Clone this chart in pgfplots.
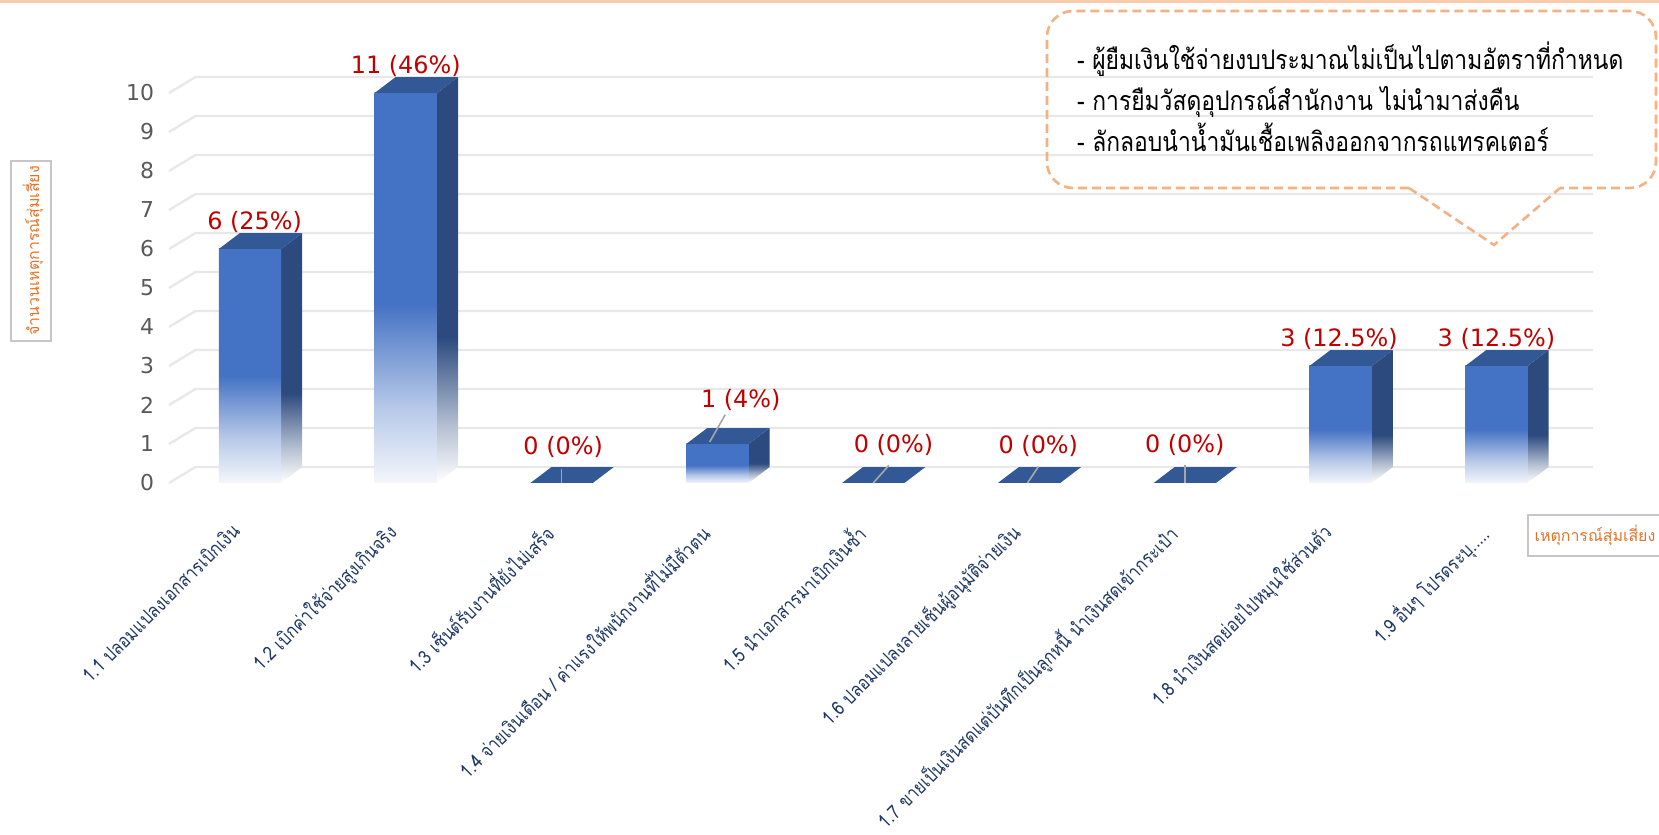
\documentclass[border=0pt]{standalone}
\usepackage{pgfplots}
\pgfplotsset{compat=1.18}
\usepackage{fontspec}
\setmainfont{DejaVu Sans}
\newfontfamily\thai[Script=Thai]{Loma}
\newfontfamily\thaicond[Script=Thai,FakeStretch=0.85]{Loma}
\definecolor{barfront}{HTML}{4472C4}
\definecolor{bartop}{HTML}{335896}
\definecolor{barside}{HTML}{2C4A7E}
\definecolor{lblred}{HTML}{C00000}
\definecolor{catblue}{HTML}{1F3864}
\definecolor{ttlorange}{HTML}{E2732B}
\definecolor{calloutorange}{HTML}{F4B183}
\definecolor{gridc}{HTML}{E8E8E8}
\definecolor{tickgray}{HTML}{595959}
\definecolor{topline}{HTML}{F8CBAD}

\pgfdeclareverticalshading{frontfade}{100bp}{color(0bp)=(barfront!6); color(25bp)=(barfront!6); color(35bp)=(barfront!40); color(48bp)=(barfront); color(100bp)=(barfront)}
\pgfdeclareverticalshading{sidefade}{100bp}{color(0bp)=(white); color(25bp)=(white); color(32bp)=(barside!35); color(43bp)=(barside); color(100bp)=(barside)}

\newcommand\fivedots{.....}
% cube-like 3D bar: #1 = category position, #2 = value
\newcommand\cubebar[2]{%
  \pgfmathsetmacro\hh{min(#2,10)}%
  \pgfmathsetmacro\xl{#1-0.2}%
  \pgfmathsetmacro\xr{#1+0.2}%
  \pgfmathsetmacro\xbr{#1+0.335}%
  \pgfmathsetmacro\xbl{#1-0.065}%
  \pgfmathsetmacro\hb{\hh+0.41}%
  \ifdim #2pt>0pt
    \edef\tmp{\noexpand\addplot[draw=none,shade,shading=sidefade] coordinates {(\xr,0) (\xbr,0.41) (\xbr,\hb) (\xr,\hh)} -- cycle;}\tmp
    \edef\tmp{\noexpand\addplot[draw=none,shade,shading=frontfade] coordinates {(\xl,0) (\xr,0) (\xr,\hh) (\xl,\hh)} -- cycle;}\tmp
  \fi
  \edef\tmp{\noexpand\addplot[draw=none,fill=bartop] coordinates {(\xl,\hh) (\xr,\hh) (\xbr,\hb) (\xbl,\hb)} -- cycle;}\tmp
}
\newcommand\gridline[1]{%
  \pgfmathsetmacro\gb{#1+0.41}%
  \edef\tmp{\noexpand\addplot[gridc,line width=1.2bp] coordinates {(-0.52,#1) (-0.35,\gb) (8.62,\gb)};}\tmp
}

\begin{document}
\begin{tikzpicture}
\useasboundingbox (0,0) rectangle (829.5bp,417.5bp);
\begin{axis}[
  at={(84.5bp,176bp)}, anchor=south west,
  scale only axis, width=712bp, height=204.75bp,
  xmin=-0.52, xmax=8.62, ymin=0, ymax=10.5,
  clip=false,
  axis line style={draw=none},
  major tick length=0pt,
  ytick={0,1,2,3,4,5,6,7,8,9,10},
  xtick={0,1,2,3,4,5,6,7,8},
  /pgf/number format/assume math mode=true,
  yticklabel style={font=\fontsize{11}{13}\selectfont, text=tickgray, xshift=-4bp},
  xticklabels={{1.1 ปลอมแปลงเอกสารเบิกเงิน},{1.2 เบิกค่าใช้จ่ายสูงเกินจริง},{1.3 เซ็นต์รับงานที่ยังไม่เสร็จ},{1.4 จ่ายเงินเดือน / ค่าแรงให้พนักงานที่ไม่มีตัวตน},{1.5 นำเอกสารมาเบิกเงินซ้ำ},{1.6 ปลอมแปลงลายเซ็นผู้อนุมัติจ่ายเงิน},{1.7 ขายเป็นเงินสดแต่บันทึกเป็นลูกหนี้  นำเงินสดเข้ากระเป๋า},{1.8 นำเงินสดย่อยไปหมุนใช้ส่วนตัว},{1.9 อื่นๆ โปรดระบุ\fivedots}},
  xticklabel style={xshift=-10bp, yshift=-14.5bp, font=\thaicond\fontsize{9.7}{12}\selectfont, text=catblue, rotate=45, anchor=north east},
]
\pgfplotsinvokeforeach{0,1,2,3,4,5,6,7,8,9,10}{\gridline{#1}}
% bars: position, value
\cubebar{0}{6}
\cubebar{1}{11}
\cubebar{2}{0}
\cubebar{3}{1}
\cubebar{4}{0}
\cubebar{5}{0}
\cubebar{6}{0}
\cubebar{7}{3}
\cubebar{8}{3}
% leader lines
\addplot[gray!70, line width=0.8bp] coordinates {(2.0,0.36) (2.0,0.0)};
\addplot[gray!70, line width=0.8bp] coordinates {(3.05,1.75) (2.95,1.05)};
\addplot[gray!70, line width=0.8bp] coordinates {(4.1,0.45) (4.0,0.0)};
\addplot[gray!70, line width=0.8bp] coordinates {(5.06,0.42) (4.99,0.0)};
\addplot[gray!70, line width=0.8bp] coordinates {(6.0,0.45) (6.0,0.0)};
% data labels
\addplot[draw=none, nodes near coords, point meta=explicit symbolic,
  every node near coord/.append style={font=\fontsize{12}{14}\selectfont, text=lblred, anchor=center}]
  coordinates {
  (0.03,6.69) [6 (25\%)]
  (1.0,10.7) [11 (46\%)]
  (2.01,0.92) [0 (0\%)]
  (3.15,2.13) [1 (4\%)]
  (4.13,0.97) [0 (0\%)]
  (5.06,0.95) [0 (0\%)]
  (6.0,0.97) [0 (0\%)]
  (6.99,3.7) [3 (12.5\%)]
  (8.0,3.7) [3 (12.5\%)]
  };
\end{axis}
\begin{scope}[x=0.5bp,y=-0.5bp,shift={(0,417.5bp)}]
  \draw[topline, line width=1.5bp] (0,2) -- (1659,2);
  % y-axis title box
  \draw[gray!45, line width=1bp] (11,161) rectangle (51,341);
  \node[rotate=90, text=ttlorange, font=\thai\fontsize{8}{10}\selectfont] at (33,251) {จำนวนเหตุการณ์สุ่มเสี่ยง};
  % x-axis title box
  \draw[gray!45, line width=1bp] (1528,515) rectangle (1665,556);
  \node[text=ttlorange, font=\thai\fontsize{8}{10}\selectfont] at (1595,535) {เหตุการณ์สุ่มเสี่ยง};
  % callout
  \begin{scope}[calloutorange, line width=1.3bp, dash pattern=on 4.5bp off 2.5bp]
    \draw[rounded corners=13bp] (1409,188) -- (1047,188) -- (1047,11) -- (1656,11) -- (1656,188) -- (1560,188);
    \draw (1409,188) -- (1494,245) -- (1560,188);
  \end{scope}
  \node[anchor=base west, font=\thaicond\fontsize{13.5}{16}\selectfont] at (1070,70) {- ผู้ยืมเงินใช้จ่ายงบประมาณไม่เป็นไปตามอัตราที่กำหนด};
  \node[anchor=base west, font=\thaicond\fontsize{13.5}{16}\selectfont] at (1070,111) {- การยืมวัสดุอุปกรณ์สำนักงาน ไม่นำมาส่งคืน};
  \node[anchor=base west, font=\thaicond\fontsize{13.5}{16}\selectfont] at (1070,152) {- ลักลอบนำน้ำมันเชื้อเพลิงออกจากรถแทรคเตอร์};
\end{scope}
\end{tikzpicture}
\end{document}
